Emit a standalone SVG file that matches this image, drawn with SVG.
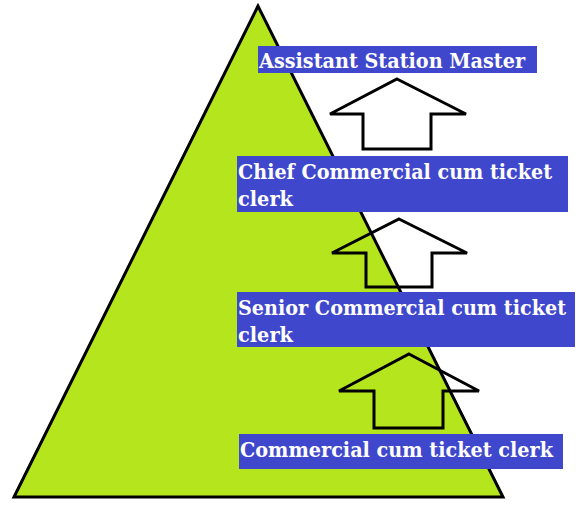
<svg xmlns="http://www.w3.org/2000/svg" width="581" height="513" viewBox="0 0 581 513">
<style>
.box{fill:#3F48CC}
.t{font-family:"DejaVu Serif","Liberation Serif",serif;font-weight:bold;font-size:20.5px;fill:#FFFFFF}
.arrow{fill:none;stroke:#000;stroke-width:3;stroke-linejoin:miter}
</style>
<rect width="581" height="513" fill="#FFFFFF"/>
<g id="pyramid">
<polygon points="258,6 14,497 503,497" fill="#B5E61D" stroke="#000" stroke-width="3"/>
</g>
<g id="connectors">
<polygon class="arrow" points="397,79 466,114 431,114 431,149 363,149 363,114 330,114"/>
<polygon class="arrow" points="399,219 467,253 432,253 432,287 366,287 366,253 332,253"/>
<polygon class="arrow" points="409,354 479,391 443,391 443,428 374,428 374,391 339,391"/>
</g>
<g id="node-asm">
<rect class="box" x="258" y="46" width="279" height="27"/>
<text class="t" x="259" y="68" textLength="266" lengthAdjust="spacingAndGlyphs">Assistant Station Master</text>
</g>
<g id="node-chief">
<rect class="box" x="237" y="156" width="331" height="56"/>
<text class="t" x="238" y="179" textLength="314" lengthAdjust="spacingAndGlyphs">Chief Commercial cum ticket</text>
<text class="t" x="238" y="206" textLength="55" lengthAdjust="spacingAndGlyphs">clerk</text>
</g>
<g id="node-senior">
<rect class="box" x="237" y="292" width="338" height="55"/>
<text class="t" x="238" y="315" textLength="328" lengthAdjust="spacingAndGlyphs">Senior Commercial cum ticket</text>
<text class="t" x="238" y="342" textLength="55" lengthAdjust="spacingAndGlyphs">clerk</text>
</g>
<g id="node-clerk">
<rect class="box" x="239" y="434" width="324" height="35"/>
<text class="t" x="240" y="457" textLength="313" lengthAdjust="spacingAndGlyphs">Commercial cum ticket clerk</text>
</g>
</svg>
